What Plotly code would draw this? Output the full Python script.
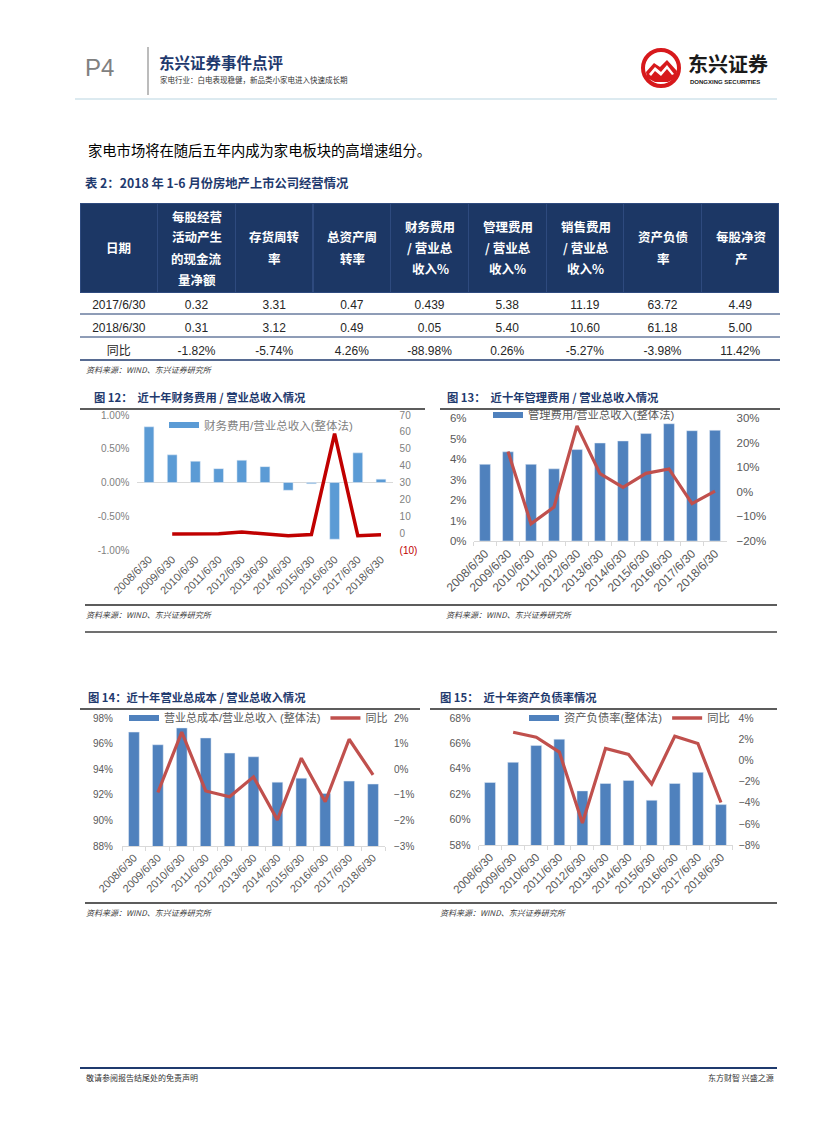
import plotly.graph_objects as go

W, H = 827, 1122
def px(x):
    return x / W
def py(y):
    return 1 - y / H

# ---------------- data ----------------
years = ["2008/6/30", "2009/6/30", "2010/6/30", "2011/6/30", "2012/6/30", "2013/6/30",
         "2014/6/30", "2015/6/30", "2016/6/30", "2017/6/30", "2018/6/30"]

fin_ratio = [0.825, 0.41, 0.315, 0.205, 0.33, 0.235, -0.115, -0.018, -0.84, 0.439, 0.05]
fin_yoy = [None, -0.50, -0.23, -0.35, 0.61, -0.29, -1.49, -0.88, 59.0, -1.52, -0.89]

mgmt_ratio = [3.74, 4.35, 3.74, 3.52, 4.46, 4.78, 4.88, 5.24, 5.72, 5.38, 5.40]
mgmt_yoy = [None, 16.4, -13.0, -6.2, 26.8, 7.4, 1.8, 7.5, 9.3, -4.8, 0.26]

cost_ratio = [96.90, 95.91, 97.22, 96.44, 95.26, 94.97, 92.99, 93.30, 92.10, 93.07, 92.84]
cost_yoy = [None, -0.91, 1.45, -0.85, -1.08, -0.30, -1.98, 0.43, -1.27, 1.17, -0.22]

debt_ratio = [62.92, 64.51, 65.83, 66.33, 62.26, 62.84, 63.08, 61.52, 62.84, 63.72, 61.18]
debt_yoy = [None, 2.65, 2.18, 0.78, -5.92, 1.12, 0.56, -2.24, 2.27, 1.59, -3.98]

# table
table_header = [["日期"], ["每股经营", "活动产生", "的现金流", "量净额"], ["存货周转", "率"],
                ["总资产周", "转率"], ["财务费用", "/ 营业总", "收入%"], ["管理费用", "/ 营业总", "收入%"],
                ["销售费用", "/ 营业总", "收入%"], ["资产负债", "率"], ["每股净资", "产"]]
tbl_date = ["2017/6/30", "2018/6/30", "同比"]
tbl_cashflow = ["0.32", "0.31", "-1.82%"]
tbl_inv_turn = ["3.31", "3.12", "-5.74%"]
tbl_asset_turn = ["0.47", "0.49", "4.26%"]
tbl_fin_fee = ["0.439", "0.05", "-88.98%"]
tbl_mgmt_fee = ["5.38", "5.40", "0.26%"]
tbl_sales_fee = ["11.19", "10.60", "-5.27%"]
tbl_debt = ["63.72", "61.18", "-3.98%"]
tbl_nav = ["4.49", "5.00", "11.42%"]

# tick labels
c12_left_vals = [-1.0, -0.5, 0.0, 0.5, 1.0]
c12_left_text = ["-1.00%", "-0.50%", "0.00%", "0.50%", "1.00%"]
c12_right_vals = [-10, 0, 10, 20, 30, 40, 50, 60, 70]
c12_right_text = ["<span style='color:#C00000'>(10)</span>", "0", "10", "20", "30", "40", "50", "60", "70"]

# ---------------- styles ----------------
CJK = "Noto Sans CJK SC"
SANS = "Liberation Sans, Noto Sans CJK SC"
NAVY = "#1F3A6E"
HDR_FILL = "#1C3765"
BLUE1 = "#5B9BD5"
BLUE2 = "#4F81BD"
RED1 = "#C00000"
RED2 = "#C0504D"
GRAY_T = "#595959"

fig = go.Figure()

# ---------------- table ----------------
cols = [tbl_date, tbl_cashflow, tbl_inv_turn, tbl_asset_turn, tbl_fin_fee,
        tbl_mgmt_fee, tbl_sales_fee, tbl_debt, tbl_nav]
T_X0, T_X1, T_TOP, HDR_H, ROW_H = 80, 780, 203, 89, 23
fig.add_trace(go.Table(
    domain=dict(x=[px(T_X0), px(T_X1)], y=[py(T_TOP + HDR_H + 3 * ROW_H + 4), py(T_TOP)]),
    columnwidth=[1] * 9,
    header=dict(values=[""] * 9, fill_color=HDR_FILL, line=dict(color="#2E4A7E", width=1),
                height=HDR_H),
    cells=dict(values=cols, fill_color="white", line=dict(color="white", width=1),
               align="center", height=ROW_H,
               font=dict(family=SANS, size=12, color="#262626")),
))
col_w = (T_X1 - T_X0) / 9
annotations = []
for i, lines in enumerate(table_header):
    cx = T_X0 + col_w * (i + 0.5)
    n = len(lines)
    cy0 = T_TOP + HDR_H / 2 - (n - 1) * 21 / 2
    for k, t in enumerate(lines):
        annotations.append(dict(text="<b>%s</b>" % t, x=px(cx), y=py(cy0 + 21 * k),
                                xref="paper", yref="paper", showarrow=False,
                                xanchor="center", yanchor="middle",
                                font=dict(family=CJK, size=12.5, color="white")))

# ---------------- charts ----------------
def bar_line(xa, ya_l, ya_r, bars, line, bcolor, lcolor, lwidth, bwidth, bname, lname, legend, show_line_leg):
    fig.add_trace(go.Bar(x=years, y=bars, marker_color=bcolor, width=bwidth, name=bname,
                         xaxis=xa, yaxis=ya_l, showlegend=False, legend=legend))
    fig.add_trace(go.Scatter(x=years, y=line, mode="lines", line=dict(color=lcolor, width=lwidth),
                             name=lname, xaxis=xa, yaxis=ya_r, showlegend=False, legend=legend))
    # legend entries
    fig.add_trace(go.Scatter(x=[None], y=[None], mode="lines", line=dict(color=bcolor, width=6),
                             name=bname, xaxis=xa, yaxis=ya_l, showlegend=True, legend=legend))
    if show_line_leg:
        fig.add_trace(go.Scatter(x=[None], y=[None], mode="lines", line=dict(color=lcolor, width=3.5),
                                 name=lname, xaxis=xa, yaxis=ya_r, showlegend=True, legend=legend))

bar_line("x", "y", "y2", fin_ratio, fin_yoy, BLUE1, RED1, 3.5, 0.42,
         "财务费用/营业总收入(整体法)", "同比", "legend", False)
bar_line("x2", "y3", "y4", mgmt_ratio, mgmt_yoy, BLUE2, RED2, 3.2, 0.47,
         "管理费用/营业总收入(整体法)", "同比", "legend2", False)
bar_line("x3", "y5", "y6", cost_ratio, cost_yoy, BLUE2, RED2, 3.2, 0.45,
         "营业总成本/营业总收入 (整体法)", "同比", "legend3", True)
bar_line("x4", "y7", "y8", debt_ratio, debt_yoy, BLUE2, RED2, 3.2, 0.47,
         "资产负债率(整体法)", "同比", "legend4", True)

def xax(x0, x1, y_anchor, showline=True, size=11):
    return dict(domain=[px(x0), px(x1)], anchor=y_anchor, type="category", automargin=False,
                range=[-0.5, 10.5], tickangle=-45, showgrid=False, zeroline=False,
                showline=showline, linecolor="#D9D9D9", linewidth=1,
                ticks="outside" if showline else "", tickson="boundaries", ticklen=4,
                tickcolor="#D9D9D9", tickfont=dict(family=SANS, size=size, color=GRAY_T))

def yax(y0, y1, anchor, rng, dtick=None, side="left", overlay=None, suffix="",
        vals=None, texts=None, color=GRAY_T, standoff=6, size=10.5, zeroline=False):
    d = dict(domain=[py(y1), py(y0)], anchor=anchor, range=rng, side=side, showgrid=False,
             automargin=False,
             zeroline=zeroline, zerolinecolor="#D9D9D9", zerolinewidth=1, showline=False,
             ticks="", ticksuffix=suffix, ticklabelstandoff=standoff,
             tickfont=dict(family=SANS, size=size, color=color))
    if dtick is not None:
        d["dtick"] = dtick
        d["tick0"] = rng[0]
    if vals is not None:
        d["tickvals"] = vals
        d["ticktext"] = texts
        d["tickmode"] = "array"
    if overlay:
        d["overlaying"] = overlay
    return d

layout_axes = dict(
    # chart 12
    xaxis=xax(137.4, 392.6, "y", showline=False, size=11),
    yaxis=yax(415, 550, "x", [-1.0, 1.0], vals=c12_left_vals, texts=c12_left_text,
              color="#808080", standoff=7, size=10, zeroline=True),
    yaxis2=yax(415, 550, "x", [-10, 70], side="right", overlay="y", vals=c12_right_vals,
               texts=c12_right_text, color="#808080", standoff=6, size=10),
    # chart 13
    xaxis2=xax(473.5, 726.5, "y3", size=12),
    yaxis3=yax(418, 541, "x2", [0, 6], dtick=1, suffix="%", standoff=6, size=11.5),
    yaxis4=yax(418, 541, "x2", [-20, 30], dtick=10, side="right", overlay="y3", suffix="%",
               standoff=9, size=11.5),
    # chart 14
    xaxis3=xax(122, 385, "y5", size=11),
    yaxis5=yax(718, 846, "x3", [88, 98], dtick=2, suffix="%", standoff=8, size=10),
    yaxis6=yax(718, 846, "x3", [-3, 2], dtick=1, side="right", overlay="y5", suffix="%",
               standoff=8, size=10),
    # chart 15
    xaxis4=xax(478.5, 732.5, "y7", size=11.5),
    yaxis7=yax(718, 845, "x4", [58, 68], dtick=2, suffix="%", standoff=7, size=10.5),
    yaxis8=yax(718, 845, "x4", [-8, 4], dtick=2, side="right", overlay="y7", suffix="%",
               standoff=5, size=10.5),
)

def leg(x, y, size=10.5, color=GRAY_T):
    return dict(x=px(x), y=py(y), xanchor="left", yanchor="middle", orientation="h",
                bgcolor="rgba(0,0,0,0)", borderwidth=0, itemwidth=30,
                font=dict(family=SANS, size=size, color=color), tracegroupgap=0,
                itemclick=False)

# ---------------- shapes ----------------
shapes = []
def hline(x0, x1, y, color, width):
    shapes.append(dict(type="line", xref="paper", yref="paper", x0=px(x0), x1=px(x1),
                       y0=py(y), y1=py(y), line=dict(color=color, width=width)))

# header
shapes.append(dict(type="line", xref="paper", yref="paper", x0=px(148), x1=px(148),
                   y0=py(47), y1=py(95), line=dict(color="#A6A6A6", width=1.5)))
hline(75, 777, 99, "#DCEAF0", 2)
# table row lines
for yy in [T_TOP + HDR_H + ROW_H, T_TOP + HDR_H + 2 * ROW_H]:
    hline(T_X0, T_X1, yy - 1, NAVY, 1)
hline(T_X0, T_X1, T_TOP + HDR_H + 3 * ROW_H - 1, NAVY, 1.5)
# chart frames
hline(80, 425, 409, "#262626", 1.5)
hline(440, 780, 409, "#262626", 1.5)
hline(85, 777, 605, "#262626", 1.5)
hline(85, 777, 632, "#404040", 1.5)
hline(80, 420, 709, "#262626", 1.5)
hline(430, 777, 709, "#262626", 1.5)
hline(85, 777, 903, "#262626", 1.5)
# footer
hline(80, 777, 1068, "#1F3A6E", 2)

# logo
cx, cy, r = 661, 68, 18
shapes.append(dict(type="circle", xref="paper", yref="paper", x0=px(cx - r), x1=px(cx + r),
                   y0=py(cy + r), y1=py(cy - r), line=dict(color="#D7191C", width=4),
                   fillcolor="white"))
def path(pts):
    return "M " + " L ".join("%f,%f" % (px(a), py(b)) for a, b in pts) + " Z"
shapes.append(dict(type="path", xref="paper", yref="paper",
                   path=path([(646, 72), (654, 63), (660, 67), (667, 60), (677, 71),
                              (676, 78), (668, 82), (655, 82), (647, 78)]),
                   fillcolor="#D7191C", line=dict(width=0)))
shapes.append(dict(type="path", xref="paper", yref="paper",
                   path=path([(649, 74), (655, 67), (661, 72), (667, 65), (674, 74),
                              (672, 75), (667, 69), (661, 76), (655, 71), (651, 76)]),
                   fillcolor="white", line=dict(width=0)))

# ---------------- texts ----------------
def text(t, x, y, size, color="#000", anchor="left", family=CJK, yanchor="middle"):
    annotations.append(dict(text=t, x=px(x), y=py(y), xref="paper", yref="paper",
                            showarrow=False, xanchor=anchor, yanchor=yanchor,
                            font=dict(family=family, size=size, color=color)))

text("P4", 83, 68, 24, "#808080", family="Liberation Sans")
text("<b>东兴证券事件点评</b>", 157, 62, 15.5, NAVY)
text("家电行业：白电表现稳健，新品类小家电进入快速成长期", 158, 80, 7.5, "#333333")
text("<b>东兴证券</b>", 686, 64, 20, "#1a1a1a")
text("<b>DONGXING SECURITIES</b>", 688, 82, 6, "#1a1a1a", family="Liberation Sans")

text("家电市场将在随后五年内成为家电板块的高增速组分。", 86, 150, 14.3, "#000000")
text("<b>表 2：2018 年 1-6 月份房地产上市公司经营情况</b>", 83, 183, 12.3, NAVY)
text("<i>资料来源：WIND、东兴证券研究所</i>", 84, 369, 8, "#404040")

text("<b>图 12：  近十年财务费用 / 营业总收入情况</b>", 92, 397, 11.3, NAVY)
text("<b>图 13：  近十年管理费用 / 营业总收入情况</b>", 445, 397, 11.3, NAVY)
text("<b>图 14：近十年营业总成本 / 营业总收入情况</b>", 86, 697, 11.3, NAVY)
text("<b>图 15：  近十年资产负债率情况</b>", 438, 697, 11.3, NAVY)

text("<i>资料来源：WIND、东兴证券研究所</i>", 84, 614, 8, "#404040")
text("<i>资料来源：WIND、东兴证券研究所</i>", 444, 614, 8, "#404040")
text("<i>资料来源：WIND、东兴证券研究所</i>", 84, 912, 8, "#404040")
text("<i>资料来源：WIND、东兴证券研究所</i>", 438, 912, 8, "#404040")

text("敬请参阅报告结尾处的免责声明", 84, 1077, 8, "#333333")
text("东方财智 兴盛之源", 776, 1077, 8, "#333333", anchor="right")

fig.update_layout(
    width=W, height=H, margin=dict(l=0, r=0, t=0, b=0, pad=0, autoexpand=False),
    paper_bgcolor="white", plot_bgcolor="white",
    font=dict(family=SANS),
    legend=leg(164, 425, 11.5, "#7F7F7F"),
    legend2=leg(488, 415, 11.3),
    legend3=leg(124, 718, 11),
    legend4=leg(524, 718, 11.3),
    shapes=shapes, annotations=annotations,
    **layout_axes,
)

fig.write_html("out.html", config={"displayModeBar": False},
               post_script="document.body.style.margin='0';document.body.style.overflow='hidden';")
